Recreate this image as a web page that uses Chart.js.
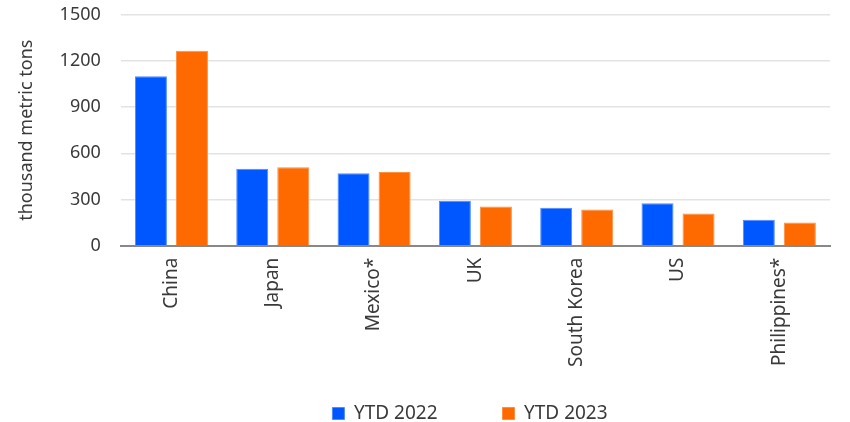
<!DOCTYPE html>
<html>
<head>
<meta charset="utf-8">
<script src="https://cdn.jsdelivr.net/npm/chart.js@4/dist/chart.umd.min.js"></script>
<style>
  html, body { margin: 0; padding: 0; background: #fff; }
  #wrap { width: 850px; height: 422px; }
</style>
</head>
<body>
<div id="wrap"><canvas id="importsChart"></canvas></div>
<script>
// paises y valores (miles de toneladas)
const countries = ['China', 'Japan', 'Mexico*', 'UK', 'South Korea', 'US', 'Philippines*'];
const ytd2022 = [1100, 500, 470, 292, 246, 276, 168];
const ytd2023 = [1266, 510, 478, 254, 235, 209, 150];
const yTicks = [0, 300, 600, 900, 1200, 1500];

const fontFamily = '"Noto Sans", "Open Sans", sans-serif';
const textColor = '#3a3a3a';

// la leyenda usa "padding" tanto en horizontal como en vertical;
// aqui se achica su alto y se desplaza el dibujo para dejar el hueco entre items
const LEGEND_GAP = 65;
const LEGEND_HEIGHT = 43;
const LEGEND_ITEM_TOP = 404;
const LEGEND_CENTER_X = 470;

const legendLayout = {
    id: 'legendLayout',
    afterInit(chart) {
        const legend = chart.legend;
        const fit = legend.fit;
        legend.fit = function () {
            fit.call(this);
            this.height = LEGEND_HEIGHT;
        };
        // se dibuja sin el recorte del cuadro de la leyenda
        legend.draw = function () {
            if (!this.options.display) return;
            const boxes = this.legendHitBoxes;
            let dx = 0;
            if (boxes && boxes.length) {
                const first = boxes[0];
                const last = boxes[boxes.length - 1];
                dx = LEGEND_CENTER_X - (first.left + last.left + last.width) / 2;
            }
            const dy = LEGEND_ITEM_TOP - (this.top + LEGEND_GAP);
            this.ctx.save();
            this.ctx.translate(dx, dy);
            this._draw();
            this.ctx.restore();
        };
    }
};

const ctx = document.getElementById('importsChart').getContext('2d');

new Chart(ctx, {
    type: 'bar',
    data: {
        labels: countries,
        datasets: [
            {
                label: 'YTD 2022',
                data: ytd2022,
                backgroundColor: '#0057ff',
                borderColor: '#4d8cff',
                borderWidth: 1,
                categoryPercentage: 0.81,
                barPercentage: 0.78
            },
            {
                label: 'YTD 2023',
                data: ytd2023,
                backgroundColor: '#ff6a00',
                borderColor: '#ff8f40',
                borderWidth: 1,
                categoryPercentage: 0.81,
                barPercentage: 0.78
            }
        ]
    },
    plugins: [legendLayout],
    options: {
        responsive: true,
        maintainAspectRatio: false,
        animation: false,
        layout: { padding: { left: 12, right: 20, top: 1, bottom: 0 } },
        plugins: {
            legend: {
                position: 'bottom',
                labels: {
                    boxWidth: 12,
                    boxHeight: 12,
                    padding: LEGEND_GAP,
                    color: textColor,
                    font: { family: fontFamily, size: 19 }
                }
            },
            tooltip: { enabled: false }
        },
        scales: {
            x: {
                grid: { display: false, drawTicks: false },
                border: { color: '#888888', width: 2 },
                ticks: {
                    minRotation: 90,
                    maxRotation: 90,
                    padding: 12,
                    color: textColor,
                    font: { family: fontFamily, size: 19 }
                }
            },
            y: {
                min: 0,
                max: 1500,
                afterBuildTicks: axis => {
                    axis.ticks = yTicks.map(v => ({ value: v }));
                },
                // marcas invisibles para separar las etiquetas del area
                grid: { color: '#e3e3e3', lineWidth: 1.5, drawTicks: true, tickLength: 16, tickColor: 'rgba(0,0,0,0)' },
                border: { display: false },
                ticks: {
                    padding: 4,
                    color: textColor,
                    font: { family: fontFamily, size: 18 },
                    callback: value => String(value)
                },
                title: {
                    display: true,
                    text: 'thousand metric tons',
                    color: textColor,
                    padding: { top: 4, bottom: 18 },
                    font: { family: fontFamily, size: 18 }
                }
            }
        }
    }
});
</script>
</body>
</html>
